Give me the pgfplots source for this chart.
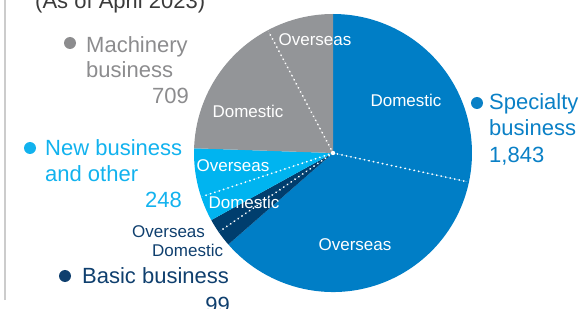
\documentclass[border=0pt]{standalone}
\usepackage{pgfplots}
\pgfplotsset{compat=1.18}
\usepackage{pgfplotstable}
\usepackage{fontspec}
\setmainfont{Liberation Sans}
\definecolor{cSpec}{HTML}{007EC6}
\definecolor{cNew}{HTML}{00B4F0}
\definecolor{cBasic}{HTML}{003E6E}
\definecolor{cMach}{HTML}{939598}
\definecolor{tMach}{HTML}{8C8C8E}
\definecolor{tSpec}{HTML}{0A80C6}
\definecolor{tNew}{HTML}{12B2EE}
\definecolor{tBasic}{HTML}{0F3F6E}
\definecolor{tTitle}{HTML}{3A3A3A}
\colorlet{pie0}{cSpec}
\colorlet{pie1}{cSpec}
\colorlet{pie2}{cBasic}
\colorlet{pie3}{cBasic}
\colorlet{pie4}{cNew}
\colorlet{pie5}{cNew}
\colorlet{pie6}{cMach}
\colorlet{pie7}{cMach}
% clockwise from 12 o'clock
\pgfplotstableread{
part value
SpecialtyDomestic 822
SpecialtyOverseas 1021
BasicDomestic 52
BasicOverseas 47
NewDomestic 84
NewOverseas 164
MachineryDomestic 484
MachineryOverseas 225
}\pietable
\newcommand\bigf{\fontsize{22bp}{26bp}\selectfont}
\newcommand\smallf{\fontsize{17bp}{20bp}\selectfont}
\begin{document}
\begin{tikzpicture}
\gdef\pietotal{0}%
\pgfplotsforeachungrouped \i in {0,...,7}{%
  \pgfplotstablegetelem{\i}{value}\of\pietable
  \pgfmathsetmacro\tmp{\pietotal+\pgfplotsretval}%
  \xdef\pietotal{\tmp}%
}%
\gdef\cumsum{0}%
\pgfplotsforeachungrouped \i in {0,...,7}{%
  \pgfplotstablegetelem{\i}{value}\of\pietable
  \pgfmathsetmacro\angstart{90-360*(\cumsum/\pietotal)}%
  \pgfmathsetmacro\newcum{\cumsum+\pgfplotsretval}%
  \xdef\cumsum{\newcum}%
  \pgfmathsetmacro\angend{90-360*(\cumsum/\pietotal)}%
  \expandafter\xdef\csname pieS\i\endcsname{\angstart}%
  \expandafter\xdef\csname pieE\i\endcsname{\angend}%
}%
\useasboundingbox (0,0) rectangle (585bp,309bp);
\begin{axis}[
  at={(0,0)}, anchor=south west,
  x=1bp, y=1bp, xmin=0, xmax=585, ymin=0, ymax=309,
  hide axis, clip=false]
\pgfplotsinvokeforeach{0,...,7}{%
  \fill[pie#1] (axis cs:333,156) -- ++(\csname pieS#1\endcsname:139bp)
    arc[start angle=\csname pieS#1\endcsname, end angle=\csname pieE#1\endcsname, radius=139bp] -- cycle;
}
\pgfplotsinvokeforeach{0,2,4,6}{%
  \draw[white, line width=2bp, line cap=round, dash pattern=on 0.01bp off 4.6bp]
    (axis cs:333,156) -- ++(\csname pieE#1\endcsname:138bp);
}
\fill[white] (axis cs:333,156) circle[radius=2.2bp];
% left rule
\draw[color=black!20, line width=1.5bp] (axis cs:5,9) -- (axis cs:5,312);
% title (cut off at top)
\node[anchor=base west, inner sep=0pt, text=tTitle] at (axis cs:35,301) {\bigf (As of April 2023)};
% inner labels
\node[anchor=base, inner sep=0pt, text=white] at (axis cs:406,203) {\smallf Domestic};
\node[anchor=base, inner sep=0pt, text=white] at (axis cs:355,59) {\smallf Overseas};
\node[anchor=base, inner sep=0pt, text=white] at (axis cs:315,264) {\smallf Overseas};
\node[anchor=base, inner sep=0pt, text=white] at (axis cs:248,192) {\smallf Domestic};
\node[anchor=base, inner sep=0pt, text=white] at (axis cs:233,138) {\smallf Overseas};
\node[anchor=base, inner sep=0pt, text=white] at (axis cs:244,101) {\smallf Domestic};
% Machinery
\fill[tMach] (axis cs:70,266) circle[radius=6bp];
\node[anchor=base west, inner sep=0pt, text=tMach] at (axis cs:86,257) {\bigf Machinery};
\node[anchor=base west, inner sep=0pt, text=tMach] at (axis cs:86,232) {\bigf business};
\node[anchor=base east, inner sep=0pt, text=tMach] at (axis cs:189,206) {\bigf 709};
% New business
\fill[tNew] (axis cs:30,161) circle[radius=6bp];
\node[anchor=base west, inner sep=0pt, text=tNew] at (axis cs:45,154) {\bigf New business};
\node[anchor=base west, inner sep=0pt, text=tNew] at (axis cs:45,128) {\bigf and other};
\node[anchor=base east, inner sep=0pt, text=tNew] at (axis cs:182,102) {\bigf 248};
% Basic
\node[anchor=base west, inner sep=0pt, text=tBasic] at (axis cs:132,72) {\smallf Overseas};
\node[anchor=base west, inner sep=0pt, text=tBasic] at (axis cs:152,53) {\smallf Domestic};
\fill[tBasic] (axis cs:65,33) circle[radius=6bp];
\node[anchor=base west, inner sep=0pt, text=tBasic] at (axis cs:82,26) {\bigf Basic business};
\node[anchor=base east, inner sep=0pt, text=tBasic] at (axis cs:230,-3) {\bigf 99};
% Specialty
\fill[tSpec] (axis cs:477,206) circle[radius=6bp];
\node[anchor=base west, inner sep=0pt, text=tSpec] at (axis cs:489,200) {\bigf Specialty};
\node[anchor=base west, inner sep=0pt, text=tSpec] at (axis cs:489,174) {\bigf business};
\node[anchor=base west, inner sep=0pt, text=tSpec] at (axis cs:489,147) {\bigf 1,843};
\end{axis}
\end{tikzpicture}
\end{document}
